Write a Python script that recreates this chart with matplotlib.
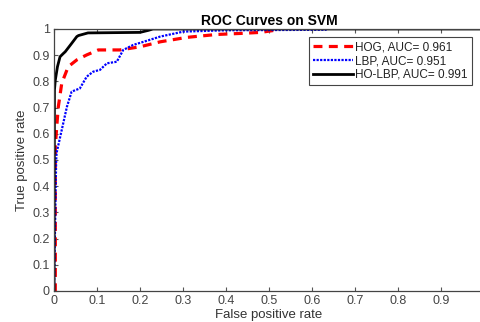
import matplotlib
matplotlib.use("Agg")
import matplotlib.pyplot as plt

plt.rcParams['font.family'] = ['Liberation Sans', 'DejaVu Sans']

# HOG (red dashed)
hog_fpr = [0.0, 0.003, 0.003, 0.006, 0.010, 0.018, 0.033, 0.053, 0.076, 0.103, 0.153, 0.200, 0.247, 0.309, 0.378, 0.433, 0.480, 0.518, 0.520]
hog_tpr = [0.0, 0.0, 0.55, 0.62, 0.703, 0.793, 0.856, 0.882, 0.901, 0.920, 0.920, 0.932, 0.951, 0.968, 0.979, 0.983, 0.987, 0.996, 1.0]

# LBP (blue dotted)
lbp_fpr = [0.0, 0.005, 0.006, 0.018, 0.030, 0.041, 0.060, 0.076, 0.091, 0.107, 0.123, 0.146, 0.161, 0.184, 0.208, 0.247, 0.301, 0.40, 0.634]
lbp_tpr = [0.0, 0.50, 0.527, 0.615, 0.703, 0.761, 0.773, 0.818, 0.837, 0.844, 0.869, 0.875, 0.920, 0.939, 0.951, 0.971, 0.990, 0.995, 0.997]

# HO-LBP (black solid)
holbp_fpr = [0.0, 0.001, 0.003, 0.008, 0.014, 0.022, 0.026, 0.041, 0.053, 0.057, 0.079, 0.20, 0.22, 0.23, 1.0]
holbp_tpr = [0.0, 0.767, 0.805, 0.856, 0.894, 0.907, 0.913, 0.945, 0.971, 0.975, 0.985, 0.987, 0.995, 1.0, 1.0]

labels = ['HOG, AUC= 0.961', 'LBP, AUC= 0.951', 'HO-LBP, AUC= 0.991']
xticks = [0, 0.1, 0.2, 0.3, 0.4, 0.5, 0.6, 0.7, 0.8, 0.9, 1]
yticks = [0, 0.1, 0.2, 0.3, 0.4, 0.5, 0.6, 0.7, 0.8, 0.9, 1]

fig = plt.figure(figsize=(4.81, 3.22), dpi=100)
ax = fig.add_axes([0.1123, 0.0963, 0.894, 0.8137])

ax.plot(hog_fpr, hog_tpr, color='#ff0000', linestyle=(0, (2.8, 2.0)), linewidth=2.3, label=labels[0])
ax.plot(lbp_fpr, lbp_tpr, color='#0000ff', linestyle=(0, (1, 0.6)), linewidth=1.6, label=labels[1])
ax.plot(holbp_fpr, holbp_tpr, color='black', linestyle='-', linewidth=2.0, label=labels[2])

ax.set_xlim(0, 1)
ax.set_ylim(0, 1)
ax.set_xticks(xticks)
ax.set_yticks(yticks)
ax.set_xticklabels([f'{t:g}' for t in xticks])
ax.set_yticklabels([f'{t:g}' for t in yticks])
ax.tick_params(direction='in', top=True, right=True, length=3, width=0.8,
               labelsize=9, colors='#555555', labelcolor='#444444', pad=3)
for s in ax.spines.values():
    s.set_color('#444444')
    s.set_linewidth(0.9)

ax.set_title('ROC Curves on SVM', fontsize=10, fontweight='bold', pad=3)
ax.set_xlabel('False positive rate', fontsize=9.5, color='#333333', labelpad=1)
ax.set_ylabel('True positive rate', fontsize=9.5, color='#333333', labelpad=3)

leg = ax.legend(loc='upper right', bbox_to_anchor=(0.972, 0.969), fontsize=8.5,
                handlelength=3.4, handletextpad=0.2, borderpad=0.35, labelspacing=0.15,
                fancybox=False, framealpha=1, edgecolor='#444444', borderaxespad=0)
leg.get_frame().set_linewidth(0.8)
for t in leg.get_texts():
    t.set_color('#222222')

fig.savefig('out.png', dpi=100)
